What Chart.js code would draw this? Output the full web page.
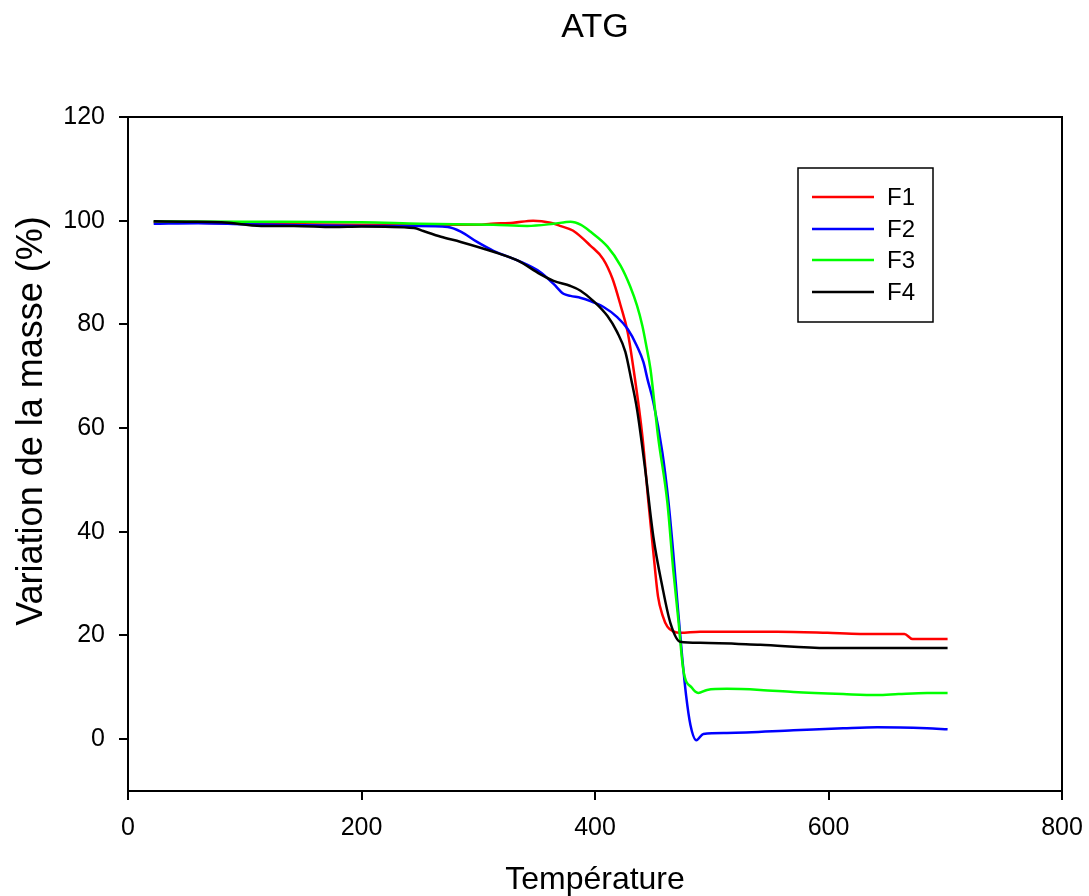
<!DOCTYPE html>
<html>
<head>
<meta charset="utf-8">
<title>ATG</title>
<script src="https://cdn.jsdelivr.net/npm/chart.js@4.4.1/dist/chart.umd.min.js"></script>
<style>
  html, body { margin: 0; padding: 0; background: #ffffff; }
  #wrap { width: 1089px; height: 896px; }
</style>
</head>
<body>
<div id="wrap"><canvas id="chart-atg" width="1089" height="896"></canvas></div>
<script>
// ---- données ----
const f1Temp = [22, 60, 100, 150, 200, 250, 300, 311, 330, 347, 362, 370, 381, 396, 407, 415, 422, 428, 433, 440.6, 445.8, 450, 454, 458, 462, 467, 473, 490, 556, 599, 627, 665, 672, 702];
const f1Mass = [99.7, 99.6, 99.4, 99.3, 99.2, 99.2, 99.2, 99.4, 99.6, 100, 99.6, 99.0, 98.1, 95.2, 92.6, 88.8, 83.6, 78.5, 71.4, 58.4, 45.6, 36, 27.5, 23.8, 21.7, 20.8, 20.5, 20.7, 20.7, 20.5, 20.3, 20.3, 19.3, 19.3];

const f2Temp = [22, 60, 100, 150, 200, 248, 274, 285, 299, 313, 334, 353, 364.5, 373, 379, 388, 396, 407, 419, 428, 436, 441.5, 445, 450, 457.7, 463, 467, 470.6, 474.6, 478, 481.7, 486.8, 492.8, 513, 570, 612.6, 641.7, 684.5, 702];
const f2Mass = [99.4, 99.5, 99.3, 99.1, 99.0, 99.0, 98.8, 97.9, 95.9, 94.2, 92.3, 90.1, 87.8, 85.9, 85.5, 85.1, 84.5, 83.4, 81.4, 79.1, 75.8, 72.7, 69.4, 65, 55.3, 45.6, 36, 26.3, 16, 8.5, 2.8, -0.2, 1.0, 1.2, 1.7, 2.1, 2.3, 2.1, 1.9];

const f3Temp = [22, 100, 200, 250, 313, 342, 364.5, 379, 388, 396, 410.7, 422, 430, 436, 440.6, 444, 447.5, 454, 462, 467, 471.4, 475.7, 483, 488.5, 496, 513, 541.6, 570, 612.6, 641.7, 660, 684.5, 702];
const f3Mass = [99.9, 99.8, 99.7, 99.4, 99.2, 99.0, 99.4, 99.8, 99.2, 97.9, 95.0, 91.3, 87.4, 83.6, 79.7, 75.8, 71.4, 58.4, 45.6, 32.7, 23, 13.3, 9.9, 8.9, 9.5, 9.7, 9.5, 9.1, 8.7, 8.5, 8.7, 8.9, 8.9];

const f4Temp = [22, 50, 80, 114, 142, 176, 200, 245, 253, 268, 285, 313, 334, 353, 364.5, 379, 387.6, 398.7, 410.7, 419, 426, 431, 436, 443, 450, 457.7, 464.6, 473, 490, 541.6, 599, 702];
const f4Mass = [99.9, 99.8, 99.7, 99.0, 99.0, 98.8, 98.9, 98.6, 98.0, 96.9, 95.9, 94.0, 92.3, 89.7, 88.4, 87.4, 86.5, 84.5, 81.6, 78.5, 74.7, 69.4, 63.6, 52, 39, 29.4, 22.4, 18.8, 18.6, 18.2, 17.6, 17.6];

const seriesNames = ['F1', 'F2', 'F3', 'F4'];
const seriesColors = ['#ff0000', '#0000ff', '#00ff00', '#000000'];
const xTicks = [0, 200, 400, 600, 800];
const yTicks = [0, 20, 40, 60, 80, 100, 120];

const FONT = '"Liberation Sans", Arial, sans-serif';

function toPoints(xs, ys) {
  return xs.map(function (x, i) { return { x: x, y: ys[i] }; });
}

// titre, titres d'axes, cadre et légende
const decorPlugin = {
  id: 'decor',
  afterDraw: function (chart) {
    const ctx = chart.ctx;
    const a = chart.chartArea;
    ctx.save();
    // cadre
    ctx.strokeStyle = '#000';
    ctx.lineWidth = 2;
    ctx.strokeRect(a.left, a.top, a.right - a.left, a.bottom - a.top);

    ctx.fillStyle = '#000';
    ctx.textAlign = 'center';
    ctx.textBaseline = 'middle';
    ctx.font = '34px ' + FONT;
    ctx.fillText('ATG', (a.left + a.right) / 2, 28);
    ctx.font = '32px ' + FONT;
    ctx.fillText('Température', (a.left + a.right) / 2, 880);

    ctx.save();
    ctx.font = '36px ' + FONT;
    ctx.translate(32, 421);
    ctx.rotate(-Math.PI / 2);
    ctx.fillText('Variation de la masse (%)', 0, 0);
    ctx.restore();

    // légende
    const bx = 798, by = 168, bw = 135, bh = 154;
    ctx.strokeStyle = '#000';
    ctx.lineWidth = 1.5;
    ctx.strokeRect(bx, by, bw, bh);
    ctx.font = '24px ' + FONT;
    ctx.textAlign = 'left';
    const rowY = [197, 229, 260, 292];
    seriesNames.forEach(function (name, i) {
      ctx.strokeStyle = seriesColors[i];
      ctx.lineWidth = 2.5;
      ctx.beginPath();
      ctx.moveTo(812, rowY[i]);
      ctx.lineTo(874, rowY[i]);
      ctx.stroke();
      ctx.fillStyle = '#000';
      ctx.fillText(name, 887, rowY[i] + 1);
    });
    ctx.restore();
  }
};

const allTemps = [f1Temp, f2Temp, f3Temp, f4Temp];
const allMass = [f1Mass, f2Mass, f3Mass, f4Mass];

const datasets = seriesNames.map(function (name, i) {
  return {
    label: name,
    data: toPoints(allTemps[i], allMass[i]),
    borderColor: seriesColors[i],
    backgroundColor: seriesColors[i],
    borderWidth: 2.5,
    pointRadius: 0,
    cubicInterpolationMode: 'monotone',
    order: 3 - i
  };
});

new Chart(document.querySelector('#chart-atg'), {
  type: 'line',
  data: { datasets: datasets },
  options: {
    responsive: false,
    animation: false,
    devicePixelRatio: 1,
    layout: { padding: { top: 117, right: 27, left: 0, bottom: 0 } },
    plugins: {
      legend: { display: false },
      title: { display: false },
      tooltip: { enabled: false }
    },
    scales: {
      x: {
        type: 'linear',
        min: 0,
        max: 800,
        afterBuildTicks: function (s) { s.ticks = xTicks.map(function (v) { return { value: v }; }); },
        afterFit: function (s) { s.height = 105; s.paddingLeft = 0; s.paddingRight = 0; },
        grid: { drawOnChartArea: false, tickLength: 9, color: '#000', lineWidth: 2 },
        border: { display: true, color: '#000', width: 2 },
        ticks: { color: '#000', padding: 13, maxRotation: 0, font: { family: FONT, size: 25 } }
      },
      y: {
        type: 'linear',
        min: -10,
        max: 120,
        afterBuildTicks: function (s) { s.ticks = yTicks.map(function (v) { return { value: v }; }); },
        afterFit: function (s) { s.width = 128; s.paddingTop = 0; s.paddingBottom = 0; },
        grid: { drawOnChartArea: false, tickLength: 9, color: '#000', lineWidth: 2 },
        border: { display: true, color: '#000', width: 2 },
        ticks: { color: '#000', padding: 14, font: { family: FONT, size: 25 } }
      }
    }
  },
  plugins: [decorPlugin]
});
</script>
</body>
</html>
